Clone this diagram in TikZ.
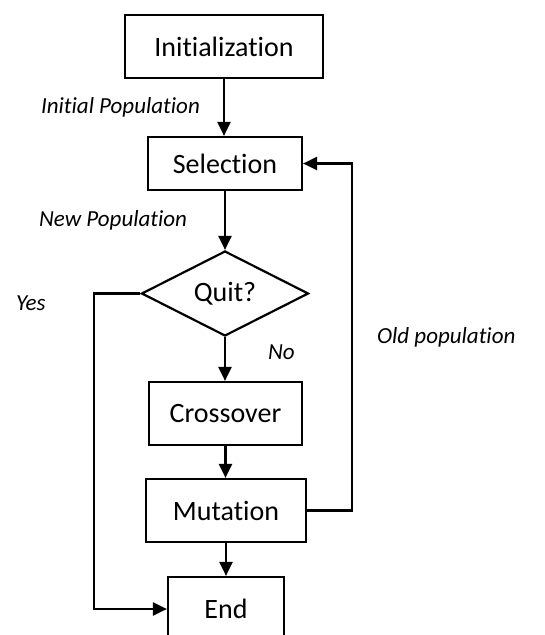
\documentclass[tikz,border=0pt]{standalone}
\usepackage{fontspec}
\setmainfont{Carlito}[Ligatures=NoCommon]
\usepackage{tikz}
\usetikzlibrary{arrows.meta,shapes.geometric}

\begin{document}
\begin{tikzpicture}[x=1pt,y=-1pt,line width=2.2pt,
  >={Triangle[length=14pt,width=13pt]},
  stepbox/.style={draw,rectangle,inner sep=0pt,font=\fontsize{28}{33}\selectfont},
  decision/.style={draw,diamond,aspect=2,inner sep=0pt,font=\fontsize{28}{33}\selectfont},
  lbl/.style={anchor=west,inner sep=0pt,font=\fontsize{23}{27}\selectfont\itshape}]
\useasboundingbox (0,0) rectangle (545,635);
\node[stepbox,minimum width=198pt,minimum height=63pt] (init) at (224,46.5) {Initialization};
\node[stepbox,minimum width=154pt,minimum height=53pt] (sel) at (225,163.5) {Selection};
\node[decision,minimum width=167pt,minimum height=85pt] (quit) at (225,293.5) {Quit?};
\node[stepbox,minimum width=153pt,minimum height=63pt] (cross) at (225.5,413.5) {Crossover};
\node[stepbox,minimum width=160pt,minimum height=63pt] (mut) at (226,510.5) {Mutation};
\node[stepbox,minimum width=116pt,minimum height=64pt] (end) at (226,609) {End};
\node[lbl] (initpop) at (40,107) {Initial Population};
\node[lbl] (newpop) at (38,220) {New Population};
\node[lbl] (yes) at (15,303) {Yes};
\node[lbl] (no) at (267,352) {No};
\node[lbl] (oldpop) at (376,337) {Old population};
\coordinate (yesturn) at (94,293.5);
\coordinate (oldturn) at (352,510.5);
\draw[->] (init.south) -- (init.south |- sel.north);
\draw[->] (sel.south) -- (quit.north);
\draw[->] (quit.south) -- (quit.south |- cross.north);
\draw[->] (cross.south) -- (cross.south |- mut.north);
\draw[->] (mut.south) -- (mut.south |- end.north);
\draw[->] (quit.west) -- (yesturn) |- (end.west);
\draw[->] (mut.east) -- (oldturn) |- (sel.east);
\end{tikzpicture}
\end{document}
